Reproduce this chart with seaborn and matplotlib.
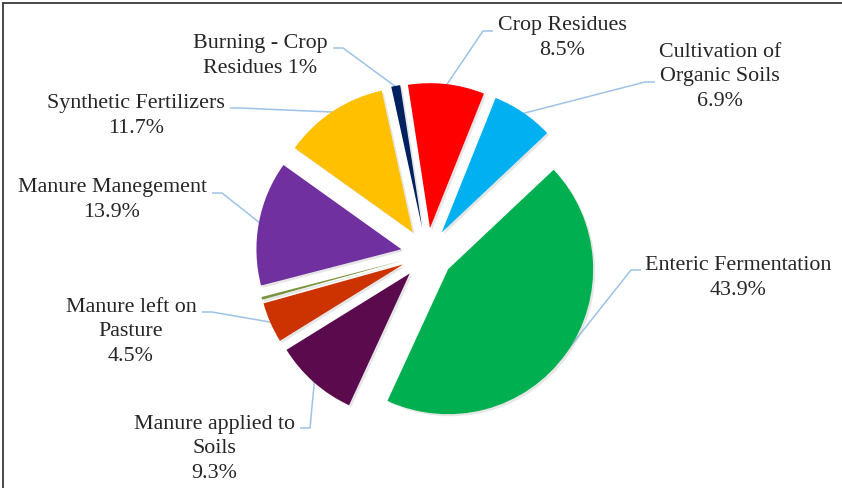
import numpy as np
import matplotlib
matplotlib.use("Agg")
import matplotlib.pyplot as plt
import matplotlib.patheffects as pe
from matplotlib.lines import Line2D
import seaborn as sns

# ---- data (clockwise order, starting with Enteric Fermentation) ----
names = ["Enteric Fermentation", "Manure applied to\nSoils", "Manure left on\nPasture", "",
         "Manure Manegement", "Synthetic Fertilizers", "Burning - Crop\nResidues",
         "Crop Residues", "Cultivation of\nOrganic Soils"]
values = [43.9, 9.3, 4.5, 0.3, 13.9, 11.7, 1.0, 8.5, 6.9]
pct_sep = ["\n", "\n", "\n", "", "\n", "\n", " ", "\n", "\n"]
colors = ["#00B050", "#5C0A4E", "#CC3300", "#77933C", "#7030A0",
          "#FFC000", "#002060", "#FF0000", "#00B0F0"]

# ---- layout (image pixel coordinates) ----
W, H = 842, 489
label_xy = [(738, 278), (214, 449), (131, 332), None, (112, 200),
            (136, 116), (260, 56), (562, 38), (720, 77)]
line_start = [(641, 271), (300, 429), (202, 313), None, (212, 194),
              (230, 109), (333, 49), (493, 32), (655, 83)]
elbow = [-10, 10, 10, 0, 10, 10, 10, -10, -10]

sns.set_theme(style="white")
plt.rcParams["font.family"] = ["Liberation Serif", "DejaVu Serif"]

fig = plt.figure(figsize=(W / 100, H / 100), dpi=100)
ax = fig.add_axes([0, 0, 1, 1])

cx, cy = 427, H - 255
R = 145
EXP = 26
wedges, _ = ax.pie(values, colors=colors, startangle=43.3, counterclock=False,
                   radius=R, center=(cx, cy), explode=[EXP] * len(values),
                   wedgeprops=dict(linewidth=0))
for w in wedges:
    w.set_path_effects([pe.SimplePatchShadow(offset=(1.5, -1.5), shadow_rgbFace="#909090", alpha=0.22),
                        pe.Normal()])

ax.set_xlim(0, W)
ax.set_ylim(0, H)
ax.set_aspect("equal")
ax.axis("off")

line_color = "#9DC3E6"
text_color = "#262626"
for i, w in enumerate(wedges):
    if label_xy[i] is None:
        continue
    v = values[i]
    txt = f"{names[i]}{pct_sep[i]}{v:g}%"
    tx, ty = label_xy[i]
    ax.text(tx, H - ty, txt, ha="center", va="center", fontsize=15.8,
            linespacing=1.36, color=text_color)
    tm = np.deg2rad(0.5 * (w.theta1 + w.theta2))
    ex = w.center[0] + (w.r - 1) * np.cos(tm)
    ey = w.center[1] + (w.r - 1) * np.sin(tm)
    sx, sy = line_start[i]
    ax.plot([sx, sx + elbow[i], ex], [H - sy, H - sy, ey], color=line_color, lw=1.1,
            solid_capstyle="butt", zorder=0.5)

# document frame (top and left border)
fig.add_artist(Line2D([3 / W, 1], [1 - 4 / H, 1 - 4 / H], transform=fig.transFigure,
                      color="#3a3a3a", lw=1.3))
fig.add_artist(Line2D([3 / W, 3 / W], [0, 1 - 4 / H], transform=fig.transFigure,
                      color="#3a3a3a", lw=1.3))

fig.savefig("out.png", dpi=100, facecolor="white")
